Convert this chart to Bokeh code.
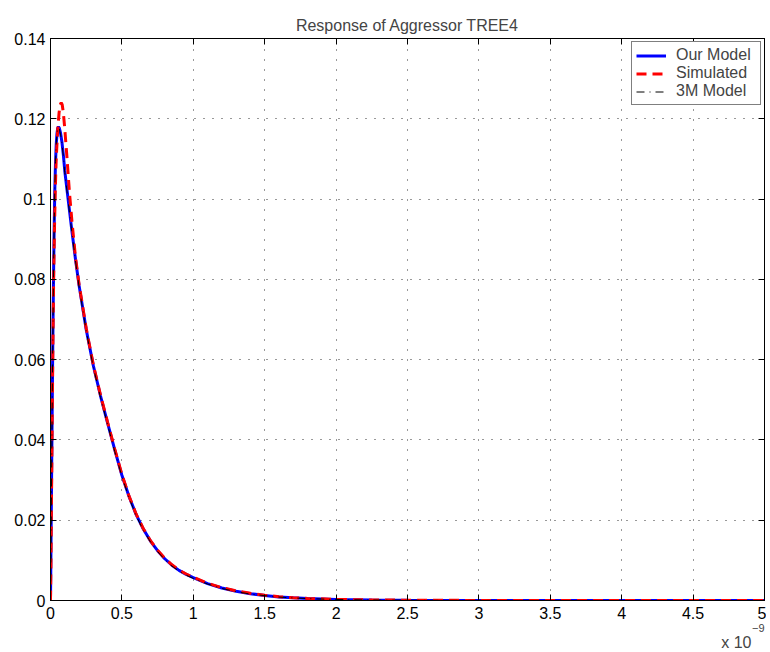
from bokeh.plotting import figure
from bokeh.models import Range1d, LinearAxis, FixedTicker, Title
from bokeh.embed import file_html
from bokeh.resources import INLINE

# time axis in units of 1e-9 s
our_x = [0, 0.002, 0.005, 0.01, 0.015, 0.02, 0.025, 0.03, 0.035, 0.04, 0.045, 0.05, 0.056,
         0.062, 0.07, 0.08, 0.09, 0.1, 0.125, 0.15, 0.175, 0.2, 0.25, 0.3, 0.35, 0.4, 0.45,
         0.5, 0.55, 0.6, 0.65, 0.7, 0.75, 0.8, 0.85, 0.9, 0.95, 1.0, 1.1, 1.2, 1.3, 1.4, 1.5,
         1.6, 1.7, 1.8, 2.0, 2.25, 2.5, 3.0, 3.5, 4.0, 4.5, 5.0]
our_y = [0, 0.007, 0.02, 0.04, 0.06, 0.077, 0.091, 0.102, 0.109, 0.1135, 0.1162, 0.1176, 0.118,
         0.1177, 0.1165, 0.1142, 0.111, 0.107, 0.0995, 0.092, 0.085, 0.0785, 0.0675, 0.0585,
         0.051, 0.0442, 0.0375, 0.0312, 0.0259, 0.0214, 0.0178, 0.0148, 0.0124, 0.0104, 0.0088,
         0.0075, 0.0065, 0.0057, 0.0042, 0.0031, 0.0023, 0.0017, 0.00125, 0.0009, 0.00067,
         0.0005, 0.00027, 0.00013, 0.00006, 0.00002, 0.0, 0.0, 0.0, 0.0]

sim_x = [0, 0.003, 0.007, 0.012, 0.017, 0.022, 0.028, 0.034, 0.04, 0.05, 0.06, 0.068, 0.075,
         0.082, 0.09, 0.1, 0.115, 0.133, 0.15, 0.175, 0.2, 0.25, 0.3, 0.35, 0.4, 0.45,
         0.5, 0.55, 0.6, 0.65, 0.7, 0.75, 0.8, 0.85, 0.9, 0.95, 1.0, 1.1, 1.2, 1.3, 1.4, 1.5,
         1.6, 1.7, 1.8, 2.0, 2.25, 2.5, 3.0, 3.5, 4.0, 4.5, 5.0]
sim_y = [0, 0.009, 0.025, 0.045, 0.064, 0.08, 0.093, 0.103, 0.11, 0.117, 0.1215, 0.1235, 0.124,
         0.1235, 0.1215, 0.1175, 0.1105, 0.1015, 0.0945, 0.0855, 0.0788, 0.0678, 0.0587,
         0.0512, 0.0444, 0.0377, 0.0314, 0.026, 0.0215, 0.0179, 0.0149, 0.0125, 0.0105, 0.0089,
         0.0076, 0.0066, 0.0058, 0.0043, 0.0032, 0.0024, 0.0018, 0.0013, 0.00095, 0.0007,
         0.00052, 0.00028, 0.00014, 0.00007, 0.00002, 0.0, 0.0, 0.0, 0.0]

m3_x = [0, 0.002, 0.005, 0.01, 0.015, 0.02, 0.025, 0.03, 0.035, 0.04, 0.045, 0.05, 0.055,
        0.062, 0.07, 0.08, 0.09, 0.1, 0.125, 0.15, 0.175, 0.2, 0.25, 0.3, 0.35, 0.4, 0.45,
        0.5, 0.55, 0.6, 0.65, 0.7, 0.75, 0.8, 0.85, 0.9, 0.95, 1.0, 1.1, 1.2, 1.3, 1.4, 1.5,
        1.6, 1.7, 1.8, 2.0, 2.25, 2.5, 3.0, 3.5, 4.0, 4.5, 5.0]
m3_y = [0, 0.008, 0.021, 0.041, 0.061, 0.078, 0.092, 0.1025, 0.1093, 0.1137, 0.1163, 0.1175, 0.1178,
        0.1175, 0.1162, 0.1139, 0.1106, 0.1066, 0.0991, 0.0916, 0.0846, 0.0781, 0.0671, 0.0581,
        0.0506, 0.0438, 0.0371, 0.0309, 0.0256, 0.0211, 0.0175, 0.0146, 0.0122, 0.0102, 0.0086,
        0.0073, 0.0063, 0.0055, 0.0041, 0.003, 0.0022, 0.0016, 0.0012, 0.00085, 0.00063,
        0.00047, 0.00025, 0.00012, 0.00005, 0.00002, 0.0, 0.0, 0.0, 0.0]

x_ticks = [0, 0.5, 1, 1.5, 2, 2.5, 3, 3.5, 4, 4.5, 5]
x_tick_labels = ["0", "0.5", "1", "1.5", "2", "2.5", "3", "3.5", "4", "4.5", "5"]
y_ticks = [0, 0.02, 0.04, 0.06, 0.08, 0.1, 0.12, 0.14]
y_tick_labels = ["0", "0.02", "0.04", "0.06", "0.08", "0.1", "0.12", "0.14"]

FONT = "Liberation Sans"
FS = "16px"

p = figure(width=766, height=650, output_backend="svg", toolbar_location=None,
           x_range=Range1d(0, 5), y_range=Range1d(0, 0.14),
           min_border_left=50, min_border_right=2, min_border_top=38, min_border_bottom=49,
           title="Response of Aggressor TREE4")
p.title.align = "center"
p.title.text_font = FONT
p.title.text_font_size = FS
p.title.text_font_style = "normal"
p.title.standoff = 10
p.outline_line_color = "black"
p.background_fill_color = "white"
p.border_fill_color = "white"

def style_axis(ax, ticks, labels, show_labels=True):
    ax.ticker = FixedTicker(ticks=ticks)
    ax.major_tick_in = 6
    ax.major_tick_out = 0
    ax.minor_tick_in = 0
    ax.minor_tick_out = 0
    ax.axis_line_color = "black"
    ax.major_tick_line_color = "black"
    ax.major_label_text_font = FONT
    if show_labels:
        ax.major_label_overrides = {t: l for t, l in zip(ticks, labels)}
        ax.major_label_text_font_size = FS
        ax.major_label_text_color = "black"
    else:
        ax.major_label_overrides = {t: "" for t in ticks}
        ax.major_label_text_font_size = "0px"
        ax.major_label_standoff = 0

style_axis(p.xaxis[0], x_ticks, x_tick_labels)
p.xaxis[0].major_label_standoff = 6
style_axis(p.yaxis[0], y_ticks, y_tick_labels)
p.yaxis[0].major_label_standoff = 5

top_ax = LinearAxis()
style_axis(top_ax, x_ticks, x_tick_labels, show_labels=False)
p.add_layout(top_ax, "above")
right_ax = LinearAxis()
style_axis(right_ax, y_ticks, y_tick_labels, show_labels=False)
p.add_layout(right_ax, "right")

p.xgrid.ticker = FixedTicker(ticks=x_ticks)
p.ygrid.ticker = FixedTicker(ticks=y_ticks)
p.xgrid.grid_line_color = "#333333"
p.xgrid.grid_line_dash = "1 9"
p.ygrid.grid_line_color = "#333333"
p.ygrid.grid_line_dash = "1 8"

p.line(our_x, our_y, line_color="#0000ff", line_width=3, legend_label="Our Model")
p.line(sim_x, sim_y, line_color="#ff0000", line_width=3, line_dash="10 6", legend_label="Simulated")
p.line(m3_x, m3_y, line_color="black", line_width=1, line_dash="8 5 1 5", legend_label="3M Model")

lg = p.legend[0]
lg.location = "top_right"
lg.margin = 3
lg.padding = 4
lg.spacing = 0
lg.glyph_width = 30
lg.glyph_height = 17
lg.label_height = 17
lg.label_standoff = 10
lg.label_width = 80
lg.label_text_font = FONT
lg.label_text_font_size = FS
lg.border_line_color = "black"
lg.border_line_width = 1
lg.background_fill_alpha = 1.0

# "x 10^-9" exponent note below the x axis, right aligned
exp_t = Title(text="\u22129", align="right", text_font=FONT, text_font_size="11px",
              text_font_style="normal", standoff=0, offset=0)
p.add_layout(exp_t, "below")
mult_t = Title(text="x 10", align="right", text_font=FONT, text_font_size=FS,
               text_font_style="normal", standoff=0, offset=13)
p.add_layout(mult_t, "below")

open("out.html", "w").write(file_html(p, INLINE))
